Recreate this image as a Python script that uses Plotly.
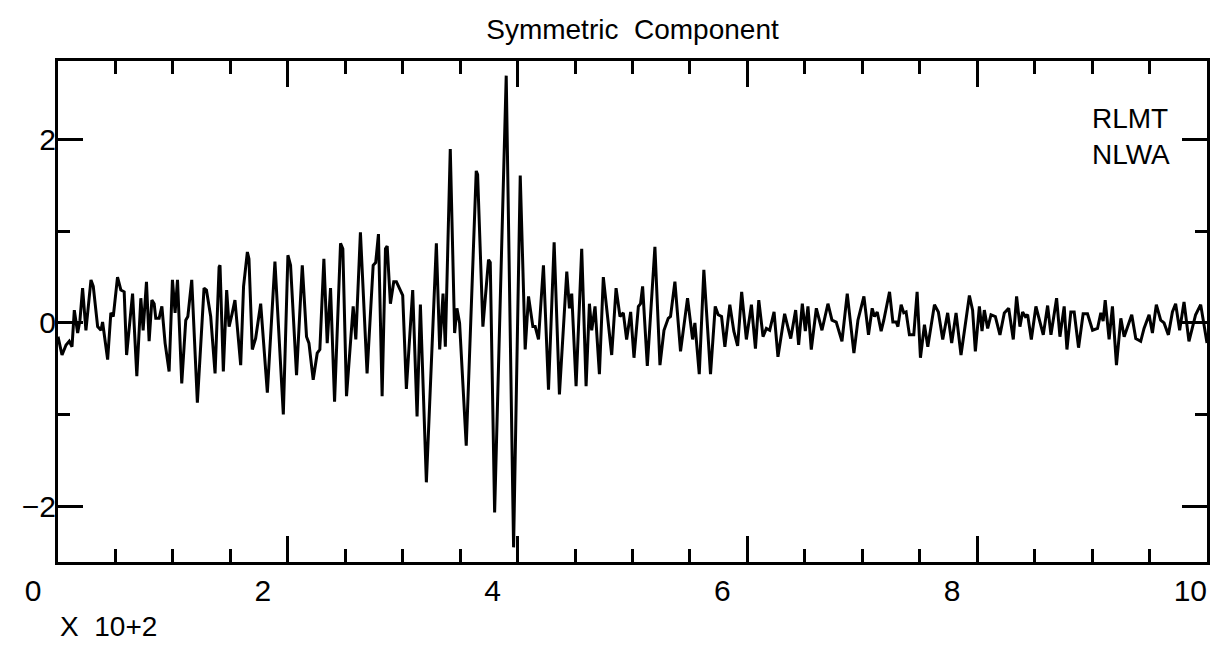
import plotly.graph_objects as go

# ---- data (time in samples, amplitude) ----
time_pts = [
    0, 1.2, 3.5, 7.0, 9.8, 12.2, 14.2, 17.1, 19.1, 21.4, 24.3, 28.7, 30.7, 34.5, 37.4, 38.8,
    43.2, 46.0, 48.1, 51.8, 54.7, 57.6, 59.7, 64.9, 68.6, 72.1, 74.1, 77.0, 79.3, 81.7, 83.7,
    85.1, 88.0, 90.4, 93.2, 96.7, 99.6, 101.9, 104.0, 107.7, 111.2, 113.0, 116.4, 121.3, 127.1,
    129.2, 132.9, 136.7, 140.2, 141.0, 143.9, 146.8, 148.9, 151.5, 154.0, 159.0, 161.5, 164.8,
    166.2, 169.1, 172.0, 176.4, 182.2, 188.8, 196.1, 200.1, 202.4, 207.6, 212.6, 216.3, 218.4,
    222.1, 225.6, 227.9, 231.4, 234.3, 237.2, 240.7, 245.9, 247.9, 251.1, 256.9, 259.2, 263.2,
    269.0, 274.3, 276.5, 278.9, 282.1, 285.0, 286.5, 289.3, 292.2, 294.5, 298.0, 300.0, 303.2,
    308.7, 312.5, 315.4, 320.6, 329.3, 332.2, 335.1, 337.1, 341.4, 345.2, 347.2, 349.5, 355.3,
    364.0, 365.2, 369.8, 374.7, 376.2, 380.0, 390.1, 396.5, 402.3, 406.6, 409.5, 413.3, 415.3,
    418.2, 422.5, 426.9, 431.8, 436.4, 442.8, 445.1, 447.1, 450.9, 455.8, 459.6, 462.5, 464.5,
    467.4, 471.2, 474.6, 479.0, 481.9, 485.7, 489.1, 492.0, 494.9, 498.4, 501.3, 505.1, 507.0,
    508.8, 512.9, 519.5, 523.9, 527.4, 531.1, 533.1, 536.9, 541.8, 547.9, 552.3, 554.3, 558.1,
    562.1, 567.9, 572.0, 574.6, 577.5, 580.4, 584.7, 588.2, 591.5, 595.0, 599.1, 603.5, 607.0,
    609.9, 613.6, 616.5, 619.4, 623.2, 626.6, 632.4, 637.7, 642.0, 644.6, 647.8, 650.4, 652.7,
    655.6, 660.0, 664.9, 670.1, 673.6, 677.3, 682.3, 686.9, 692.7, 696.2, 701.4, 705.4, 708.6,
    710.6, 713.0, 716.4, 718.7, 723.7, 726.6, 729.5, 731.0, 733.8, 736.1, 738.1, 741.0, 744.8,
    747.7, 750.6, 754.1, 757.0, 762.8, 766.2, 770.0, 774.3, 777.8, 781.6, 785.9, 793.2, 796.0,
    798.4, 801.9, 804.2, 806.2, 809.1, 812.0, 815.8, 819.8, 823.6, 827.4, 831.4, 834.3, 837.2,
    839.5, 841.9, 843.9, 847.1, 851.1, 857.5, 861.3, 864.2, 869.1, 872.0, 875.7, 878.1, 881.5,
    884.4, 888.2, 892.2, 896.0, 900.4, 904.7, 907.6, 909.6, 911.4, 914.8, 917.7, 921.2, 925.0,
    927.9, 934.5, 938.0, 942.3, 945.2, 949.6, 952.5, 955.9, 959.7, 962.6, 966.4, 969.9, 972.7,
    976.2, 980.0, 984.3, 990.1, 994.5, 998.0, 1000.0,
]
amplitude = [
    -0.15, -0.22, -0.35, -0.24, -0.20, -0.26, 0.14, -0.11, 0.03, 0.38, -0.08, 0.47, 0.40, -0.04, -0.08, 0.01,
    -0.40, 0.11, 0.07, 0.50, 0.36, 0.34, -0.35, 0.32, -0.58, 0.27, -0.08, 0.45, -0.20, 0.25, 0.21,
    0.05, 0.05, 0.18, -0.22, -0.53, 0.47, 0.11, 0.47, -0.66, 0.03, 0.07, 0.47, -0.87, 0.38,
    0.36, 0.07, -0.55, 0.61, 0.63, -0.53, 0.36, -0.04, 0.10, 0.25, -0.46, 0.40, 0.775,
    0.70, -0.29, -0.17, 0.21, -0.76, 0.67, -1.00, 0.74, 0.63, -0.57, 0.63, -0.15, -0.22,
    -0.62, -0.33, -0.29, 0.70, -0.22, 0.38, -0.86, 0.87, 0.81, -0.80, 0.18, -0.18, 0.99,
    -0.55, 0.63, 0.66, 0.97, -0.80, 0.81, 0.84, 0.21, 0.45, 0.45, 0.36, 0.30, -0.72,
    0.36, -1.02, 0.20, -1.74, 0.87, -0.29, 0.32, -0.26, 1.90, -0.11, 0.16, 0.00, -1.34,
    1.66, 1.62, -0.04, 0.69, 0.66, -2.07, 2.70, -2.45, 1.61, -0.29, 0.29, -0.04, -0.04,
    -0.18, 0.63, -0.73, 0.88, -0.78, 0.56, 0.16, 0.32, -0.69, 0.81, -0.69, 0.21, -0.08,
    0.18, -0.56, 0.50, -0.04, -0.35, 0.38, 0.07, 0.11, -0.18, 0.12, -0.38, 0.18, 0.21,
    0.40, -0.47, 0.83, -0.46, -0.08, 0.05, 0.07, 0.45, -0.31, 0.27, -0.18, 0.00, -0.56,
    0.58, -0.56, 0.18, 0.09, 0.07, -0.26, 0.20, -0.09, -0.25, 0.34, -0.18, 0.20, -0.28,
    0.25, -0.15, -0.06, -0.08, 0.12, -0.37, 0.10, -0.17, 0.14, -0.24, 0.21, -0.09, 0.18,
    -0.29, 0.16, -0.08, 0.21, 0.03, 0.01, -0.20, 0.32, -0.33, 0.03, 0.29, -0.13, 0.16,
    0.07, 0.12, -0.09, 0.03, 0.34, 0.01, 0.01, -0.04, 0.20, 0.11, 0.12, -0.13, -0.13,
    0.34, -0.38, -0.02, -0.26, 0.20, 0.12, -0.18, 0.11, -0.22, 0.11, -0.35, 0.30, 0.14,
    -0.31, 0.18, -0.09, 0.14, -0.06, 0.09, 0.07, -0.13, 0.11, 0.16, -0.18, 0.29, -0.04,
    0.12, 0.07, 0.09, -0.18, 0.18, -0.13, 0.19, -0.13, 0.27, -0.15, 0.18, -0.29, 0.12,
    0.12, -0.27, 0.10, 0.10, -0.08, -0.06, 0.11, 0.02, 0.25, -0.18, 0.18, -0.46, 0.05,
    -0.15, 0.09, -0.17, -0.20, -0.06, 0.09, -0.11, 0.20, 0.03, 0.00, -0.13, 0.12, 0.21,
    -0.08, 0.23, -0.20, 0.09, 0.20, -0.05, -0.22,
]

x_tick_vals = [0, 200, 400, 600, 800, 1000]
x_tick_text = ["0", "2", "4", "6", "8", "\u00a0\u00a010"]
y_tick_vals = [-2, 0, 2]
y_tick_text = ["\u22122", "0", "2"]
title_text = "Symmetric  Component"
station_text = "RLMT<br>NLWA"
scale_text = "X  10+2"

FONT = "Liberation Sans, Arial, sans-serif"
FS = 28
TICK_FS = 30

fig = go.Figure()
fig.add_trace(go.Scatter(
    x=time_pts, y=amplitude, mode="lines",
    line=dict(color="black", width=3),
    hoverinfo="skip", showlegend=False,
))

axis_common = dict(
    showline=True, linecolor="black", linewidth=3, mirror="ticks",
    ticks="inside", tickcolor="black", tickwidth=2.5,
    showgrid=False, zeroline=False, automargin=False,
    ticklabeloverflow="allow",
    tickfont=dict(family=FONT, size=TICK_FS, color="black"),
)

fig.update_xaxes(
    range=[0, 1000], tickmode="array", tickvals=x_tick_vals, ticktext=x_tick_text,
    ticklen=26, ticklabelshift=-25, ticklabelstandoff=0,
    minor=dict(dtick=50, ticks="inside", ticklen=13, tickwidth=2.5, tickcolor="black", showgrid=False),
    **axis_common,
)
fig.update_yaxes(
    range=[-2.61, 2.86], tickmode="array", tickvals=y_tick_vals, ticktext=y_tick_text,
    ticklen=25, ticklabelstandoff=-7,
    minor=dict(tickvals=[-1, 1], ticks="inside", ticklen=12, tickwidth=2.5, tickcolor="black", showgrid=False),
    **axis_common,
)

fig.update_layout(
    width=1210, height=650,
    margin=dict(l=58, r=3, t=61, b=88),
    paper_bgcolor="white", plot_bgcolor="white",
    font=dict(family=FONT, color="black"),
    title=dict(text=title_text, x=0.5, xref="paper", xanchor="center",
               y=1 - 19 / 650, yref="container", yanchor="top",
               font=dict(family=FONT, size=FS, color="black")),
    annotations=[
        dict(text=station_text, xref="paper", yref="paper", x=0.9695, y=0.92,
             xanchor="right", yanchor="top", align="left", showarrow=False,
             font=dict(family=FONT, size=FS, color="black")),
        dict(text=scale_text, xref="paper", yref="paper", x=0.0, y=-0.129,
             xanchor="left", yanchor="middle", align="left", showarrow=False,
             font=dict(family=FONT, size=FS, color="black")),
    ],
)

fig.write_html("out.html", config={"displayModeBar": False},
               post_script="document.body.style.margin='0';")
